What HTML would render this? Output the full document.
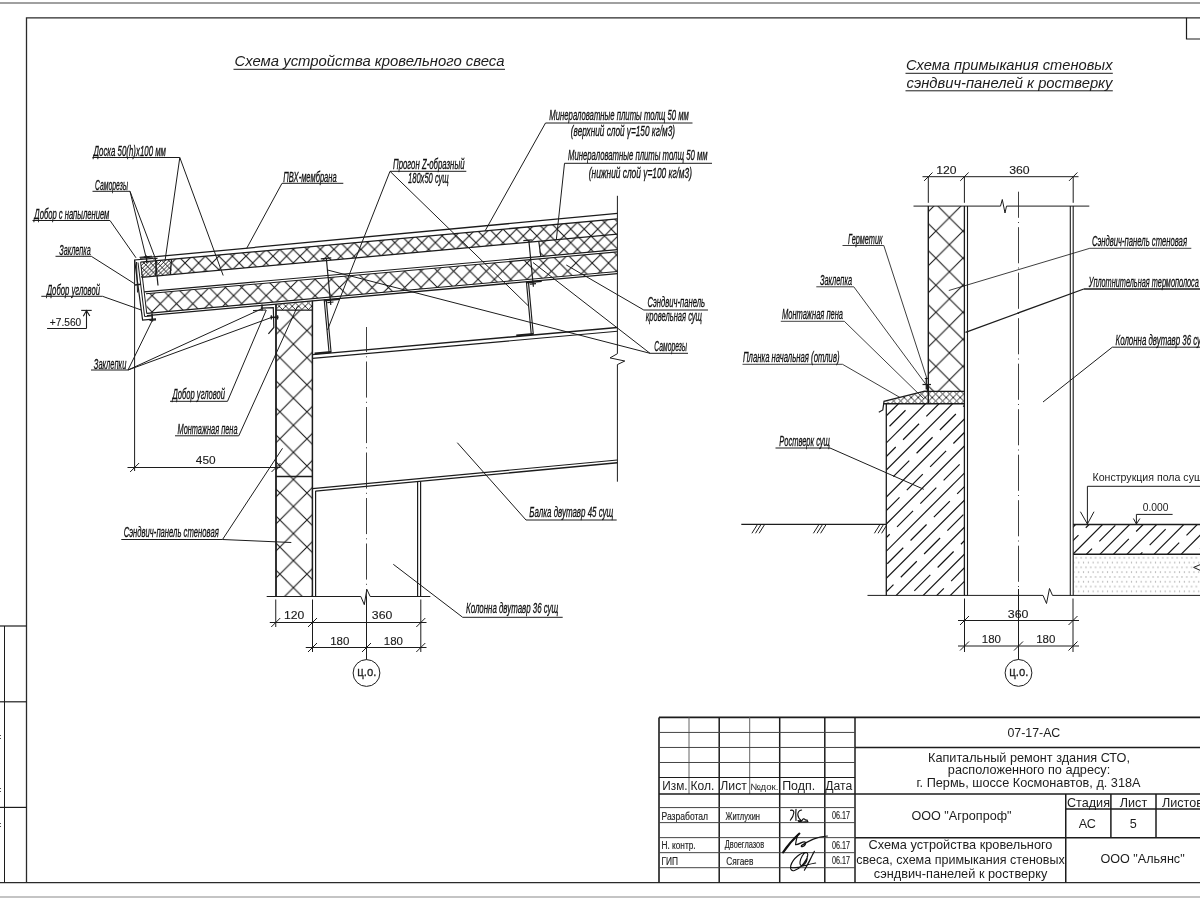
<!DOCTYPE html>
<html lang="ru"><head><meta charset="utf-8"><title>07-17-АС Лист 5</title>
<style>
html,body{margin:0;padding:0;background:#fff;}
body{width:1200px;height:900px;overflow:hidden;}
svg{display:block;will-change:transform;}
text{font-family:"Liberation Sans",sans-serif;fill:#1c1c1c;}
.g{font-style:italic;fill:#101010;stroke:#101010;stroke-width:0.3px;}
.a{font-style:normal;}
.t{font-style:italic;}
.n{font-style:normal;}
.d{font-style:normal;fill:#1a1a1a;stroke:#1a1a1a;stroke-width:0.12px;}
</style></head><body>
<svg width="1200" height="900" viewBox="0 0 1200 900">
<defs>
<pattern id="hWool" patternUnits="userSpaceOnUse" width="13.53" height="13.53" patternTransform="translate(185.06,262.94)">
<path d="M0,0 L13.53,13.53 M0,13.53 L13.53,0" stroke="#151515" stroke-width="1.05" fill="none"/></pattern>
<pattern id="hRoof" patternUnits="userSpaceOnUse" width="16.3" height="16.3" patternTransform="translate(201,295.6)">
<path d="M0,0 L16.3,16.3 M0,16.3 L16.3,0" stroke="#151515" stroke-width="1.05" fill="none"/></pattern>
<pattern id="hWall" patternUnits="userSpaceOnUse" width="27.06" height="27.06" patternTransform="translate(293.4,425.3)">
<path d="M0,0 L27.06,27.06 M0,27.06 L27.06,0" stroke="#151515" stroke-width="1.05" fill="none"/></pattern>
<pattern id="hWallR" patternUnits="userSpaceOnUse" width="27.06" height="27.06" patternTransform="translate(949.4,217.6)">
<path d="M0,0 L27.06,27.06 M0,27.06 L27.06,0" stroke="#151515" stroke-width="1.05" fill="none"/></pattern>
<pattern id="hFoam" patternUnits="userSpaceOnUse" width="6.5" height="6.5" patternTransform="translate(279.2,306.25)">
<path d="M0,0 L6.5,6.5 M0,6.5 L6.5,0" stroke="#151515" stroke-width="0.85" fill="none"/></pattern>
<pattern id="hBoard" patternUnits="userSpaceOnUse" width="3.8" height="3.8" patternTransform="translate(141,262)">
<path d="M-0.5,4.3 L4.3,-0.5" stroke="#151515" stroke-width="0.9" fill="none"/></pattern>
<pattern id="hBoard2" patternUnits="userSpaceOnUse" width="6.8" height="6.8" patternTransform="translate(143,262)">
<path d="M-0.5,-0.5 L7.3,7.3" stroke="#151515" stroke-width="0.9" fill="none"/></pattern>
<pattern id="hFoamR" patternUnits="userSpaceOnUse" width="7" height="7" patternTransform="translate(939.2,397.5)">
<path d="M0,0 L7,7 M0,7 L7,0" stroke="#151515" stroke-width="0.9" fill="none"/></pattern>
<pattern id="hSand" patternUnits="userSpaceOnUse" width="4.8" height="9.6" patternTransform="translate(1075.4,556.8)">
<rect x="0.4" y="0.4" width="1.1" height="1.1" fill="#8a8a8a"/><rect x="2.8" y="5.2" width="1.1" height="1.1" fill="#8a8a8a"/></pattern>
</defs>

<line x1="0" y1="3" x2="1200" y2="3" stroke="#a0a0a0" stroke-width="2" />
<line x1="0" y1="897" x2="1200" y2="897" stroke="#8a8a8a" stroke-width="1.2" />
<path d="M26.5,882.6 L26.5,17.8 L1200,17.8" fill="none" stroke="#2a2a2a" stroke-width="1.3" />
<line x1="0" y1="882.6" x2="1200" y2="882.6" stroke="#2a2a2a" stroke-width="1.3" />
<path d="M1186.5,17.8 L1186.5,39 L1200,39" fill="none" stroke="#1c1c1c" stroke-width="1.2" />
<line x1="4.5" y1="626" x2="4.5" y2="882.6" stroke="#1c1c1c" stroke-width="1" />
<line x1="0" y1="626" x2="26.5" y2="626" stroke="#1c1c1c" stroke-width="1.2" />
<line x1="0" y1="701.8" x2="26.5" y2="701.8" stroke="#1c1c1c" stroke-width="1.2" />
<line x1="0" y1="807.4" x2="26.5" y2="807.4" stroke="#1c1c1c" stroke-width="1.2" />
<rect x="0" y="735" width="1" height="1" fill="#555"/><rect x="0" y="738" width="1" height="1" fill="#555"/>
<rect x="0" y="788" width="1" height="1" fill="#555"/><rect x="0" y="791" width="1" height="1" fill="#555"/>
<rect x="0" y="823" width="1" height="1" fill="#555"/><rect x="0" y="826" width="1" height="1" fill="#555"/>
<text x="234.5" y="65.7" font-size="14.8" class="t" textLength="270" lengthAdjust="spacingAndGlyphs">Схема устройства кровельного свеса</text>
<line x1="233.5" y1="69.3" x2="505" y2="69.3" stroke="#1c1c1c" stroke-width="1" />
<path d="M171.5,259.27 L617.4,218.83 L617.4,234.22 L171.5,274.57 Z" fill="url(#hWool)" stroke="none" stroke-width="0" />
<path d="M539.5,241.27 L617.4,234.22 L617.4,249.72 L539.5,256.64 Z" fill="url(#hWool)" stroke="none" stroke-width="0" />
<path d="M146.5,293.78 L617.4,251.92 L617.4,271.5 L146.5,313.41 Z" fill="url(#hRoof)" stroke="none" stroke-width="0" />
<path d="M141,262.34 L171.5,259.57 L171.5,274.57 L141,277.33 Z" fill="url(#hBoard)" stroke="none" stroke-width="0" />
<path d="M141,262.34 L171.5,259.57 L171.5,274.57 L141,277.33 Z" fill="url(#hBoard2)" stroke="none" stroke-width="0" />
<line x1="140" y1="258.15" x2="617.4" y2="213.42" stroke="#1c1c1c" stroke-width="1.3" />
<line x1="140.5" y1="262.08" x2="617.4" y2="218.83" stroke="#1c1c1c" stroke-width="1.3" />
<line x1="141.5" y1="277.28" x2="617.4" y2="234.22" stroke="#1c1c1c" stroke-width="1.3" />
<line x1="144" y1="291.8" x2="617.4" y2="249.72" stroke="#1c1c1c" stroke-width="1.2" />
<line x1="146" y1="293.82" x2="617.4" y2="251.92" stroke="#1c1c1c" stroke-width="1.1" />
<line x1="147" y1="313.37" x2="617.4" y2="271.5" stroke="#1c1c1c" stroke-width="1.1" />
<line x1="147" y1="315.57" x2="617.4" y2="273.7" stroke="#1c1c1c" stroke-width="1.3" />
<line x1="171.5" y1="259.27" x2="170.2" y2="274.69" stroke="#1c1c1c" stroke-width="1.3" />
<line x1="156.5" y1="260.63" x2="155.4" y2="276.03" stroke="#1c1c1c" stroke-width="1" />
<line x1="538.8" y1="241.33" x2="540.8" y2="256.52" stroke="#1c1c1c" stroke-width="1.2" />
<path d="M153,258.3 L134.6,260 L142.6,320 L156,318.8" fill="none" stroke="#1c1c1c" stroke-width="1.2" />
<path d="M138,262.5 L144.6,316.5 L152,315.9" fill="none" stroke="#1c1c1c" stroke-width="1.0" />
<path d="M140.6,262.2 L146.8,313.8" fill="none" stroke="#1c1c1c" stroke-width="1.0" />
<path d="M136.5,262 L137.5,292.5" fill="none" stroke="#1c1c1c" stroke-width="1.0" />
<line x1="139.5" y1="257.3" x2="152" y2="256.2" stroke="#1c1c1c" stroke-width="1" />
<line x1="146.3" y1="255.5" x2="146.8" y2="263" stroke="#1c1c1c" stroke-width="1.4" />
<line x1="144" y1="257.2" x2="149.5" y2="256.7" stroke="#1c1c1c" stroke-width="1.2" />
<line x1="155.2" y1="258" x2="158" y2="285.5" stroke="#1c1c1c" stroke-width="1.2" />
<line x1="153" y1="258.8" x2="157.5" y2="258.4" stroke="#1c1c1c" stroke-width="1.2" />
<line x1="134.8" y1="285" x2="141" y2="284.3" stroke="#1c1c1c" stroke-width="1.6" />
<line x1="152" y1="313.5" x2="152.4" y2="321.5" stroke="#1c1c1c" stroke-width="1.6" />
<line x1="149.5" y1="320.4" x2="156" y2="319.8" stroke="#1c1c1c" stroke-width="1.4" />
<line x1="134.6" y1="260" x2="134.6" y2="471" stroke="#1c1c1c" stroke-width="1" />
<path d="M276,310.2 L312.4,310.2 L312.4,596.7 L276,596.7 Z" fill="url(#hWall)" stroke="none"/>
<path d="M277,304.59 L312.4,301.35 L312.4,310.2 L277,310.2 Z" fill="url(#hFoam)" stroke="none"/>
<line x1="276" y1="304.09" x2="276" y2="596.7" stroke="#1c1c1c" stroke-width="1.8" />
<line x1="312.4" y1="300.85" x2="312.4" y2="596.7" stroke="#1c1c1c" stroke-width="1.5" />
<line x1="276" y1="310.2" x2="312.4" y2="310.2" stroke="#1c1c1c" stroke-width="1.3" />
<line x1="276" y1="476.6" x2="312.4" y2="476.6" stroke="#1c1c1c" stroke-width="1.5" />
<path d="M260.8,308.2 L273.3,307.6 L273.8,327.5 L268.4,333.8" fill="none" stroke="#1c1c1c" stroke-width="1.2" />
<line x1="262" y1="304.5" x2="262" y2="310.5" stroke="#1c1c1c" stroke-width="1.5" />
<line x1="253" y1="310.6" x2="266" y2="310" stroke="#1c1c1c" stroke-width="1.1" />
<line x1="270.5" y1="317.3" x2="278.5" y2="317.3" stroke="#1c1c1c" stroke-width="1.6" />
<line x1="271.3" y1="315.2" x2="271.3" y2="319.5" stroke="#1c1c1c" stroke-width="1.2" />
<line x1="277.6" y1="315.2" x2="277.6" y2="319.5" stroke="#1c1c1c" stroke-width="1.2" />
<line x1="312.4" y1="354.61" x2="617.4" y2="327.46" stroke="#1c1c1c" stroke-width="1.4" />
<line x1="312.4" y1="358.41" x2="617.4" y2="331.26" stroke="#1c1c1c" stroke-width="1.2" />
<line x1="312.4" y1="488.6" x2="617.4" y2="459.99" stroke="#1c1c1c" stroke-width="1.2" />
<line x1="315.4" y1="491.12" x2="617.4" y2="462.79" stroke="#1c1c1c" stroke-width="1.4" />
<line x1="315.6" y1="491.12" x2="315.6" y2="596.7" stroke="#1c1c1c" stroke-width="1.2" />
<line x1="417.6" y1="481.25" x2="417.6" y2="596.7" stroke="#1c1c1c" stroke-width="1.2" />
<line x1="420.6" y1="481.25" x2="420.6" y2="596.7" stroke="#1c1c1c" stroke-width="1.2" />
<path d="M266.7,596.5 L360.8,596.5 L364.3,604.7 L366.8,589.3 L370.2,596.5 L430.3,596.5" fill="none" stroke="#1c1c1c" stroke-width="1" />
<path d="M617.4,195.8 L617.4,353.7 L610,357.9 L624.8,361 L617.4,364.6 L617.4,481.7" fill="none" stroke="#1c1c1c" stroke-width="1" />
<path d="M324.2,299.8 L329.09,352.72" fill="none" stroke="#1c1c1c" stroke-width="1.15" />
<path d="M326.2,299.6 L331.09,352.52" fill="none" stroke="#1c1c1c" stroke-width="1.15" />
<line x1="331.09" y1="352.12" x2="314.59" y2="353.41" stroke="#1c1c1c" stroke-width="2" />
<line x1="324.2" y1="300.5" x2="339.2" y2="299.16" stroke="#1c1c1c" stroke-width="1.8" />
<path d="M526.4,281.8 L531.29,334.72" fill="none" stroke="#1c1c1c" stroke-width="1.15" />
<path d="M528.4,281.6 L533.29,334.52" fill="none" stroke="#1c1c1c" stroke-width="1.15" />
<line x1="533.29" y1="334.12" x2="516.29" y2="335.46" stroke="#1c1c1c" stroke-width="2" />
<line x1="526.4" y1="282.5" x2="541.7" y2="281.14" stroke="#1c1c1c" stroke-width="1.8" />
<line x1="326.3" y1="258.3" x2="330.8" y2="305" stroke="#1c1c1c" stroke-width="1.2" />
<line x1="320.8" y1="258.8" x2="331.3" y2="257.9" stroke="#1c1c1c" stroke-width="1.2" />
<line x1="327.3" y1="302.6" x2="333.5" y2="302" stroke="#1c1c1c" stroke-width="1.2" />
<line x1="528.8" y1="240" x2="533.4" y2="286.8" stroke="#1c1c1c" stroke-width="1.2" />
<line x1="523.3" y1="240.6" x2="531.8" y2="239.8" stroke="#1c1c1c" stroke-width="1.2" />
<line x1="529.8" y1="284.2" x2="536" y2="283.6" stroke="#1c1c1c" stroke-width="1.2" />
<line x1="366.5" y1="327" x2="366.5" y2="597" stroke="#2a2a2a" stroke-width="0.9" stroke-dasharray="36.1,4.2,1,4.2" stroke-dashoffset="11"/>
<circle cx="366.5" cy="673" r="13.4" fill="none" stroke="#1c1c1c" stroke-width="1"/>
<text x="357.3" y="676.2" font-size="13" textLength="19" lengthAdjust="spacingAndGlyphs" class="n" stroke="#1c1c1c" stroke-width="0.3">ц.о.</text>
<line x1="127.5" y1="467.5" x2="280.5" y2="467.5" stroke="#1c1c1c" stroke-width="1" />
<line x1="130.1" y1="472" x2="139.1" y2="463" stroke="#1c1c1c" stroke-width="1" />
<line x1="271.5" y1="472" x2="280.5" y2="463" stroke="#1c1c1c" stroke-width="1" />
<text x="195.8" y="464.2" font-size="11.4" textLength="19.8" lengthAdjust="spacingAndGlyphs" class="d">450</text>
<line x1="275.75" y1="599.5" x2="275.75" y2="627" stroke="#1c1c1c" stroke-width="1" />
<line x1="312.5" y1="599.5" x2="312.5" y2="652" stroke="#1c1c1c" stroke-width="1" />
<line x1="420.8" y1="599.5" x2="420.8" y2="652" stroke="#1c1c1c" stroke-width="1" />
<line x1="366.5" y1="596.5" x2="366.5" y2="659.6" stroke="#1c1c1c" stroke-width="1" />
<line x1="269.75" y1="622.5" x2="426.5" y2="622.5" stroke="#1c1c1c" stroke-width="1" />
<line x1="271.25" y1="627" x2="280.25" y2="618" stroke="#1c1c1c" stroke-width="1" />
<line x1="308" y1="627" x2="317" y2="618" stroke="#1c1c1c" stroke-width="1" />
<line x1="416.3" y1="627" x2="425.3" y2="618" stroke="#1c1c1c" stroke-width="1" />
<text x="284" y="619.3" font-size="11.4" textLength="20.3" lengthAdjust="spacingAndGlyphs" class="d">120</text>
<text x="371.8" y="619.3" font-size="11.4" textLength="20.5" lengthAdjust="spacingAndGlyphs" class="d">360</text>
<line x1="305.75" y1="647.5" x2="426.5" y2="647.5" stroke="#1c1c1c" stroke-width="1" />
<line x1="308" y1="652" x2="317" y2="643" stroke="#1c1c1c" stroke-width="1" />
<line x1="362" y1="652" x2="371" y2="643" stroke="#1c1c1c" stroke-width="1" />
<line x1="416.3" y1="652" x2="425.3" y2="643" stroke="#1c1c1c" stroke-width="1" />
<text x="330.2" y="644.5" font-size="11.4" textLength="19.2" lengthAdjust="spacingAndGlyphs" class="d">180</text>
<text x="383.8" y="644.5" font-size="11.4" textLength="19.2" lengthAdjust="spacingAndGlyphs" class="d">180</text>
<text x="49.8" y="326" font-size="10.4" textLength="31.4" lengthAdjust="spacingAndGlyphs" class="d">+7.560</text>
<line x1="47.1" y1="328.5" x2="86.5" y2="328.5" stroke="#1c1c1c" stroke-width="1.1" />
<line x1="86.5" y1="328.5" x2="86.5" y2="310.4" stroke="#1c1c1c" stroke-width="1.1" />
<path d="M83.3,316.2 L86.5,310.6 L89.8,316" fill="none" stroke="#1c1c1c" stroke-width="1.1" />
<line x1="81.2" y1="310.4" x2="91.7" y2="310.4" stroke="#1c1c1c" stroke-width="1.1" />
<text x="93.5" y="156" font-size="14.2" textLength="72.5" lengthAdjust="spacingAndGlyphs" class="g">Доска 50(h)х100 мм</text>
<line x1="92.5" y1="157.5" x2="179.8" y2="157.5" stroke="#1c1c1c" stroke-width="1" />
<line x1="179.8" y1="157.5" x2="165" y2="261" stroke="#1c1c1c" stroke-width="1" />
<line x1="179.8" y1="157.5" x2="223.2" y2="275.5" stroke="#1c1c1c" stroke-width="1" />
<text x="95" y="190" font-size="14.2" textLength="33" lengthAdjust="spacingAndGlyphs" class="g">Саморезы</text>
<line x1="92.5" y1="191.3" x2="130" y2="191.3" stroke="#1c1c1c" stroke-width="1" />
<line x1="130" y1="191.3" x2="145.8" y2="256.3" stroke="#1c1c1c" stroke-width="1" />
<line x1="130" y1="191.3" x2="155.2" y2="258" stroke="#1c1c1c" stroke-width="1" />
<text x="34.3" y="219" font-size="14.2" textLength="75" lengthAdjust="spacingAndGlyphs" class="g">Добор с напылением</text>
<line x1="32.5" y1="220.5" x2="110" y2="220.5" stroke="#1c1c1c" stroke-width="1" />
<line x1="110" y1="220.5" x2="136" y2="257.8" stroke="#1c1c1c" stroke-width="1" />
<text x="59.3" y="255" font-size="14.2" textLength="31.4" lengthAdjust="spacingAndGlyphs" class="g">Заклепка</text>
<line x1="55.5" y1="256.3" x2="91.3" y2="256.3" stroke="#1c1c1c" stroke-width="1" />
<line x1="91.3" y1="256.3" x2="135" y2="284" stroke="#1c1c1c" stroke-width="1" />
<text x="46.7" y="295" font-size="14.2" textLength="53.3" lengthAdjust="spacingAndGlyphs" class="g">Добор угловой</text>
<line x1="41.3" y1="296.3" x2="102.5" y2="296.3" stroke="#1c1c1c" stroke-width="1" />
<line x1="102.5" y1="296.3" x2="141.3" y2="310" stroke="#1c1c1c" stroke-width="1" />
<text x="93.8" y="369" font-size="14.2" textLength="32.5" lengthAdjust="spacingAndGlyphs" class="g">Заклепки</text>
<line x1="91" y1="370" x2="128" y2="370" stroke="#1c1c1c" stroke-width="1" />
<line x1="128" y1="370" x2="152.5" y2="320" stroke="#1c1c1c" stroke-width="1" />
<line x1="128" y1="370" x2="261.3" y2="309" stroke="#1c1c1c" stroke-width="1" />
<line x1="128" y1="370" x2="271.3" y2="317.5" stroke="#1c1c1c" stroke-width="1" />
<text x="283.3" y="181.7" font-size="14.2" textLength="53.4" lengthAdjust="spacingAndGlyphs" class="g">ПВХ-мембрана</text>
<line x1="282" y1="183.3" x2="343.3" y2="183.3" stroke="#1c1c1c" stroke-width="1" />
<line x1="282" y1="183.3" x2="246.7" y2="248.3" stroke="#1c1c1c" stroke-width="1" />
<text x="393" y="168.8" font-size="14.2" textLength="71.5" lengthAdjust="spacingAndGlyphs" class="g">Прогон Z-образный</text>
<line x1="390" y1="171.3" x2="466.3" y2="171.3" stroke="#1c1c1c" stroke-width="1" />
<line x1="390" y1="171.3" x2="327.5" y2="330" stroke="#1c1c1c" stroke-width="1" />
<line x1="390" y1="171.3" x2="528.8" y2="306.3" stroke="#1c1c1c" stroke-width="1" />
<text x="408" y="183.3" font-size="14.2" textLength="40.8" lengthAdjust="spacingAndGlyphs" class="g">180х50 сущ</text>
<text x="549.3" y="120" font-size="14.2" textLength="139.5" lengthAdjust="spacingAndGlyphs" class="g">Минераловатные плиты толщ 50 мм</text>
<line x1="545.5" y1="123" x2="692.5" y2="123" stroke="#1c1c1c" stroke-width="1" />
<line x1="545.5" y1="123" x2="485" y2="231" stroke="#1c1c1c" stroke-width="1" />
<text x="570.8" y="136.3" font-size="14.2" textLength="104.2" lengthAdjust="spacingAndGlyphs" class="g">(верхний слой γ=150 кг/м3)</text>
<text x="568" y="160" font-size="14.2" textLength="139.5" lengthAdjust="spacingAndGlyphs" class="g">Минераловатные плиты толщ 50 мм</text>
<line x1="564.5" y1="163.3" x2="712" y2="163.3" stroke="#1c1c1c" stroke-width="1" />
<line x1="564.5" y1="163.3" x2="556.3" y2="240" stroke="#1c1c1c" stroke-width="1" />
<text x="588.8" y="177.5" font-size="14.2" textLength="103.2" lengthAdjust="spacingAndGlyphs" class="g">(нижний слой γ=100 кг/м3)</text>
<text x="647.5" y="307" font-size="14.2" textLength="57.5" lengthAdjust="spacingAndGlyphs" class="g">Сэндвич-панель</text>
<line x1="643.8" y1="310" x2="708" y2="310" stroke="#1c1c1c" stroke-width="1" />
<line x1="643.8" y1="310" x2="566.3" y2="265" stroke="#1c1c1c" stroke-width="1" />
<text x="645.8" y="321.3" font-size="14.2" textLength="56.2" lengthAdjust="spacingAndGlyphs" class="g">кровельная сущ</text>
<text x="654.3" y="351.3" font-size="14.2" textLength="32.7" lengthAdjust="spacingAndGlyphs" class="g">Саморезы</text>
<line x1="650" y1="353.3" x2="688" y2="353.3" stroke="#1c1c1c" stroke-width="1" />
<line x1="650" y1="353.3" x2="533" y2="262.5" stroke="#1c1c1c" stroke-width="1" />
<line x1="650" y1="353.3" x2="327.5" y2="270" stroke="#1c1c1c" stroke-width="1" />
<text x="529.3" y="516.7" font-size="14.2" textLength="84" lengthAdjust="spacingAndGlyphs" class="g">Балка двутавр 45 сущ</text>
<line x1="526" y1="520" x2="616.7" y2="520" stroke="#1c1c1c" stroke-width="1" />
<line x1="526" y1="520" x2="457.3" y2="442.7" stroke="#1c1c1c" stroke-width="1" />
<text x="466" y="613.3" font-size="14.2" textLength="92.3" lengthAdjust="spacingAndGlyphs" class="g">Колонна двутавр 36 сущ</text>
<line x1="462.7" y1="617.3" x2="562.7" y2="617.3" stroke="#1c1c1c" stroke-width="1" />
<line x1="462.7" y1="617.3" x2="393.3" y2="564.3" stroke="#1c1c1c" stroke-width="1" />
<text x="123.8" y="537" font-size="14.2" textLength="95" lengthAdjust="spacingAndGlyphs" class="g">Сэндвич-панель стеновая</text>
<line x1="121.3" y1="539.5" x2="222.5" y2="539.5" stroke="#1c1c1c" stroke-width="1" />
<line x1="222.5" y1="539.5" x2="291.3" y2="542.5" stroke="#1c1c1c" stroke-width="1" />
<line x1="222.5" y1="539.5" x2="282.5" y2="448.3" stroke="#1c1c1c" stroke-width="1" />
<text x="177.5" y="434.2" font-size="14.2" textLength="60" lengthAdjust="spacingAndGlyphs" class="g">Монтажная пена</text>
<line x1="175" y1="435.8" x2="238.8" y2="435.8" stroke="#1c1c1c" stroke-width="1" />
<line x1="238.8" y1="435.8" x2="297.5" y2="306.3" stroke="#1c1c1c" stroke-width="1" />
<text x="172.5" y="399.3" font-size="14.2" textLength="52.5" lengthAdjust="spacingAndGlyphs" class="g">Добор угловой</text>
<line x1="170" y1="401.3" x2="227.5" y2="401.3" stroke="#1c1c1c" stroke-width="1" />
<line x1="227.5" y1="401.3" x2="266.3" y2="310" stroke="#1c1c1c" stroke-width="1" />
<text x="906" y="69.7" font-size="14.8" class="t" textLength="206.5" lengthAdjust="spacingAndGlyphs">Схема примыкания стеновых</text>
<line x1="905.5" y1="73.3" x2="1112.8" y2="73.3" stroke="#1c1c1c" stroke-width="1" />
<text x="906.5" y="87.5" font-size="14.8" class="t" textLength="206" lengthAdjust="spacingAndGlyphs">сэндвич-панелей к ростверку</text>
<line x1="905.5" y1="90.8" x2="1112.8" y2="90.8" stroke="#1c1c1c" stroke-width="1" />
<rect x="928.3" y="206.1" width="36.1" height="185.2" fill="url(#hWallR)"/>
<line x1="928.3" y1="206.1" x2="928.3" y2="403.8" stroke="#1c1c1c" stroke-width="1.4" />
<line x1="964.4" y1="206.1" x2="964.4" y2="595.4" stroke="#1c1c1c" stroke-width="1.3" />
<line x1="967.5" y1="206.1" x2="967.5" y2="595.4" stroke="#1c1c1c" stroke-width="1.1" />
<line x1="1070.3" y1="206.1" x2="1070.3" y2="595.4" stroke="#1c1c1c" stroke-width="1.1" />
<line x1="1073.2" y1="206.1" x2="1073.2" y2="595.4" stroke="#1c1c1c" stroke-width="1.1" />
<path d="M913.5,206.1 L1000.5,206.1 L1002.3,199.5 L1005,213 L1006.5,206.1 L1089.3,206.1" fill="none" stroke="#1c1c1c" stroke-width="1" />
<line x1="1018.5" y1="191.7" x2="1018.5" y2="589" stroke="#2a2a2a" stroke-width="0.9" stroke-dasharray="36.1,4.2,1,4.2" stroke-dashoffset="10"/>
<line x1="928.3" y1="176.2" x2="928.3" y2="202.8" stroke="#1c1c1c" stroke-width="1" />
<line x1="964.4" y1="176.2" x2="964.4" y2="202.8" stroke="#1c1c1c" stroke-width="1" />
<line x1="1073.2" y1="176.2" x2="1073.2" y2="202.8" stroke="#1c1c1c" stroke-width="1" />
<line x1="922.5" y1="176.7" x2="1078.5" y2="176.7" stroke="#1c1c1c" stroke-width="1" />
<line x1="924.1" y1="180.9" x2="932.5" y2="172.5" stroke="#1c1c1c" stroke-width="1" />
<line x1="960.2" y1="180.9" x2="968.6" y2="172.5" stroke="#1c1c1c" stroke-width="1" />
<line x1="1069" y1="180.9" x2="1077.4" y2="172.5" stroke="#1c1c1c" stroke-width="1" />
<text x="936.3" y="174.4" font-size="11.4" textLength="20.3" lengthAdjust="spacingAndGlyphs" class="d">120</text>
<text x="1009.2" y="174.4" font-size="11.4" textLength="20.5" lengthAdjust="spacingAndGlyphs" class="d">360</text>
<path d="M886.3,402 L923.8,391.3 L964.4,391.3 L964.4,403.8 L886.3,403.8 Z" fill="url(#hFoamR)" stroke="none" stroke-width="0" />
<path d="M927.5,385 L927.5,391.3 L923.8,391.3 L884,401.3 L882.8,410 L878.8,412.3" fill="none" stroke="#1c1c1c" stroke-width="1.2" />
<line x1="923.8" y1="391.3" x2="964.4" y2="391.3" stroke="#1c1c1c" stroke-width="1.3" />
<line x1="883.3" y1="403.8" x2="964.4" y2="403.8" stroke="#1c1c1c" stroke-width="1.4" />
<line x1="926.3" y1="378.5" x2="926.3" y2="389.5" stroke="#1c1c1c" stroke-width="1.3" />
<line x1="922.5" y1="384.5" x2="931" y2="384.5" stroke="#1c1c1c" stroke-width="1.2" />
<line x1="924.8" y1="378.5" x2="927.8" y2="378.5" stroke="#1c1c1c" stroke-width="1.2" />
<clipPath id="cc1"><rect x="886.3" y="403.8" width="78.1" height="191.6"/></clipPath>
<g clip-path="url(#cc1)" stroke="#151515" stroke-width="1.2" fill="none">
<path d="M652.76,608.86 L668.76,592.86 M676.06,585.56 L692.06,569.56 M699.36,562.26 L715.36,546.26 M722.66,538.96 L738.66,522.96 M745.96,515.66 L761.96,499.66 M769.26,492.36 L785.26,476.36 M792.56,469.06 L808.56,453.06 M815.86,445.75 L831.86,429.75 M839.16,422.46 L855.16,406.46"/>
<path d="M689.59,599.09 L705.59,583.09 M712.88,575.79 L728.88,559.79 M736.19,552.49 L752.19,536.49 M759.49,529.19 L775.49,513.19 M782.79,505.88 L798.79,489.88 M806.09,482.59 L822.09,466.59 M829.39,459.28 L845.39,443.28 M852.69,435.99 L868.69,419.99 M875.99,412.68 L891.99,396.68"/>
<path d="M705.8,596.4 L899.4,402.8"/>
<path d="M726.41,589.32 L742.41,573.32 M749.72,566.01 L765.72,550.01 M773.01,542.72 L789.01,526.72 M796.32,519.41 L812.32,503.42 M819.62,496.12 L835.62,480.12 M842.91,472.81 L858.91,456.81 M866.22,449.51 L882.22,433.51 M889.52,426.21 L905.52,410.21 M912.82,402.91 L928.82,386.91"/>
<path d="M732.86,596.4 L926.46,402.8"/>
<path d="M739.94,602.85 L755.94,586.85 M763.25,579.54 L779.25,563.54 M786.54,556.25 L802.54,540.25 M809.85,532.94 L825.85,516.94 M833.14,509.64 L849.14,493.64 M856.44,486.34 L872.44,470.34 M879.75,463.04 L895.75,447.04 M903.05,439.74 L919.05,423.74 M926.35,416.44 L942.35,400.44"/>
<path d="M759.92,596.4 L953.52,402.8"/>
<path d="M776.77,593.07 L792.77,577.07 M800.07,569.77 L816.07,553.77 M823.38,546.47 L839.38,530.47 M846.67,523.17 L862.67,507.17 M869.98,499.87 L885.98,483.87 M893.27,476.57 L909.27,460.57 M916.58,453.27 L932.58,437.27 M939.88,429.97 L955.88,413.97 M963.17,406.67 L979.17,390.67"/>
<path d="M786.98,596.4 L980.58,402.8"/>
<path d="M790.3,606.6 L806.3,590.6 M813.6,583.3 L829.6,567.3 M836.9,560 L852.9,544 M860.2,536.7 L876.2,520.7 M883.5,513.4 L899.5,497.4 M906.8,490.1 L922.8,474.1 M930.11,466.8 L946.11,450.8 M953.4,443.5 L969.4,427.5 M976.7,420.2 L992.7,404.2"/>
<path d="M814.04,596.4 L1007.64,402.8"/>
<path d="M827.13,596.83 L843.13,580.83 M850.43,573.53 L866.43,557.53 M873.73,550.23 L889.73,534.23 M897.03,526.93 L913.03,510.93 M920.33,503.63 L936.33,487.63 M943.63,480.33 L959.63,464.33 M966.93,457.03 L982.93,441.03 M990.23,433.73 L1006.23,417.73 M1013.53,410.43 L1029.53,394.43"/>
<path d="M841.1,596.4 L1034.7,402.8"/>
<path d="M840.66,610.36 L856.66,594.36 M863.96,587.06 L879.96,571.06 M887.26,563.76 L903.26,547.76 M910.56,540.46 L926.56,524.46 M933.86,517.16 L949.86,501.16 M957.16,493.86 L973.16,477.86 M980.46,470.56 L996.46,454.56 M1003.76,447.26 L1019.76,431.26 M1027.07,423.96 L1043.07,407.96"/>
<path d="M868.16,596.4 L1061.76,402.8"/>
<path d="M877.49,600.59 L893.49,584.59 M900.79,577.29 L916.79,561.29 M924.09,553.99 L940.09,537.99 M947.39,530.69 L963.39,514.69 M970.69,507.39 L986.69,491.39 M993.99,484.09 L1009.99,468.09 M1017.29,460.79 L1033.29,444.79 M1040.59,437.49 L1056.59,421.49 M1063.89,414.19 L1079.89,398.19"/>
<path d="M895.22,596.4 L1088.82,402.8"/>
<path d="M914.32,590.82 L930.32,574.82 M937.62,567.52 L953.62,551.52 M960.92,544.22 L976.92,528.22 M984.22,520.92 L1000.22,504.92 M1007.52,497.62 L1023.52,481.62 M1030.82,474.32 L1046.82,458.32 M1054.12,451.02 L1070.12,435.02 M1077.42,427.72 L1093.42,411.72 M1100.72,404.42 L1116.72,388.42"/>
<path d="M922.28,596.4 L1115.88,402.8"/>
<path d="M927.85,604.35 L943.85,588.35 M951.15,581.05 L967.15,565.05 M974.45,557.75 L990.45,541.75 M997.75,534.45 L1013.75,518.45 M1021.05,511.15 L1037.05,495.15 M1044.35,487.85 L1060.35,471.85 M1067.65,464.55 L1083.65,448.55 M1090.95,441.25 L1106.95,425.25 M1114.25,417.95 L1130.25,401.95"/>
<path d="M949.34,596.4 L1142.94,402.8"/>
<path d="M964.68,594.58 L980.68,578.58 M987.98,571.28 L1003.98,555.28 M1011.28,547.98 L1027.28,531.98 M1034.58,524.68 L1050.58,508.68 M1057.88,501.38 L1073.88,485.38 M1081.18,478.08 L1097.18,462.08 M1104.48,454.78 L1120.48,438.78 M1127.78,431.48 L1143.78,415.48 M1151.08,408.18 L1167.08,392.18"/>
<path d="M976.4,596.4 L1170,402.8"/>
<path d="M978.21,608.11 L994.21,592.11 M1001.51,584.81 L1017.51,568.81 M1024.81,561.51 L1040.81,545.51 M1048.11,538.21 L1064.11,522.21 M1071.41,514.91 L1087.41,498.91 M1094.71,491.61 L1110.71,475.61 M1118.01,468.31 L1134.01,452.31 M1141.31,445.01 L1157.31,429.01 M1164.61,421.71 L1180.61,405.71"/>
</g>
<line x1="886.3" y1="403.8" x2="886.3" y2="595.4" stroke="#1c1c1c" stroke-width="1.3" />
<line x1="741.3" y1="524.3" x2="886.3" y2="524.3" stroke="#1c1c1c" stroke-width="1.3" />
<line x1="757.1" y1="525" x2="751.9" y2="533.3" stroke="#1c1c1c" stroke-width="1" />
<line x1="760.7" y1="525" x2="755.5" y2="533.3" stroke="#1c1c1c" stroke-width="1" />
<line x1="764.3" y1="525" x2="759.1" y2="533.3" stroke="#1c1c1c" stroke-width="1" />
<line x1="818.6" y1="525" x2="813.4" y2="533.3" stroke="#1c1c1c" stroke-width="1" />
<line x1="822.2" y1="525" x2="817" y2="533.3" stroke="#1c1c1c" stroke-width="1" />
<line x1="825.8" y1="525" x2="820.6" y2="533.3" stroke="#1c1c1c" stroke-width="1" />
<line x1="879.6" y1="525" x2="874.4" y2="533.3" stroke="#1c1c1c" stroke-width="1" />
<line x1="883.2" y1="525" x2="878" y2="533.3" stroke="#1c1c1c" stroke-width="1" />
<line x1="886.8" y1="525" x2="881.6" y2="533.3" stroke="#1c1c1c" stroke-width="1" />
<path d="M867.5,595.4 L1043,595.4 L1046.5,603.5 L1049.5,588.5 L1052.5,595.4 L1200,595.4" fill="none" stroke="#1c1c1c" stroke-width="1" />
<clipPath id="cc2"><rect x="1073.2" y="524.5" width="126.8" height="29.8"/></clipPath>
<g clip-path="url(#cc2)" stroke="#151515" stroke-width="1.2" fill="none">
<path d="M988.82,570.62 L1004.82,554.62 M1012.12,547.32 L1028.12,531.32 M1035.42,524.02 L1051.42,508.02"/>
<path d="M1025.65,560.85 L1041.65,544.85 M1048.95,537.55 L1064.95,521.55"/>
<path d="M1044.74,555.3 L1076.54,523.5"/>
<path d="M1062.48,551.08 L1078.48,535.08 M1085.78,527.78 L1101.78,511.78"/>
<path d="M1071.8,555.3 L1103.6,523.5"/>
<path d="M1076.01,564.61 L1092.01,548.61 M1099.31,541.31 L1115.31,525.31"/>
<path d="M1098.86,555.3 L1130.66,523.5"/>
<path d="M1112.84,554.84 L1128.84,538.84 M1136.14,531.54 L1152.14,515.54"/>
<path d="M1125.92,555.3 L1157.72,523.5"/>
<path d="M1126.37,568.37 L1142.37,552.37 M1149.67,545.07 L1165.67,529.07"/>
<path d="M1152.98,555.3 L1184.78,523.5"/>
<path d="M1163.2,558.6 L1179.2,542.6 M1186.5,535.3 L1202.5,519.3"/>
<path d="M1180.04,555.3 L1211.84,523.5"/>
<path d="M1200.03,548.83 L1216.03,532.83 M1223.33,525.53 L1239.33,509.53"/>
<path d="M1207.1,555.3 L1238.9,523.5"/>
<path d="M1213.56,562.36 L1229.56,546.36 M1236.86,539.06 L1252.86,523.06"/>
</g>
<rect x="1074.2" y="555.5" width="126.8" height="39" fill="url(#hSand)"/>
<line x1="1073.2" y1="524.5" x2="1200" y2="524.5" stroke="#1c1c1c" stroke-width="1.6" />
<line x1="1073.2" y1="554.3" x2="1200" y2="554.3" stroke="#1c1c1c" stroke-width="1.5" />
<path d="M1200,564.7 L1193.6,567.4 L1200,570.3" fill="none" stroke="#1c1c1c" stroke-width="1" />
<text x="1092.5" y="481.3" font-size="10.6" class="n">Конструкция пола сущ</text>
<line x1="1087.4" y1="486.3" x2="1200" y2="486.3" stroke="#1c1c1c" stroke-width="1" />
<line x1="1087.4" y1="486.3" x2="1087.4" y2="524" stroke="#1c1c1c" stroke-width="1" />
<path d="M1080.4,511.7 L1087.4,524 L1094,511.7" fill="none" stroke="#1c1c1c" stroke-width="1" />
<text x="1142.8" y="511.4" font-size="10.6" text-anchor="start" class="n" textLength="25.7" lengthAdjust="spacingAndGlyphs">0.000</text>
<line x1="1136.4" y1="514.4" x2="1172.6" y2="514.4" stroke="#1c1c1c" stroke-width="1" />
<line x1="1136.4" y1="514.4" x2="1136.4" y2="524" stroke="#1c1c1c" stroke-width="1" />
<path d="M1133.4,518.5 L1136.4,524 L1139.9,518.5" fill="none" stroke="#1c1c1c" stroke-width="1" />
<line x1="964.5" y1="598.5" x2="964.5" y2="652" stroke="#1c1c1c" stroke-width="1" />
<line x1="1073" y1="598.5" x2="1073" y2="652" stroke="#1c1c1c" stroke-width="1" />
<line x1="1018.5" y1="589" x2="1018.5" y2="659.6" stroke="#1c1c1c" stroke-width="1" />
<line x1="958" y1="620.5" x2="1079" y2="620.5" stroke="#1c1c1c" stroke-width="1" />
<line x1="960" y1="625" x2="969" y2="616" stroke="#1c1c1c" stroke-width="1" />
<line x1="1068.5" y1="625" x2="1077.5" y2="616" stroke="#1c1c1c" stroke-width="1" />
<text x="1007.8" y="618" font-size="11.4" textLength="20.7" lengthAdjust="spacingAndGlyphs" class="d">360</text>
<line x1="958" y1="646" x2="1079" y2="646" stroke="#1c1c1c" stroke-width="1" />
<line x1="960" y1="650.5" x2="969" y2="641.5" stroke="#1c1c1c" stroke-width="1" />
<line x1="1014" y1="650.5" x2="1023" y2="641.5" stroke="#1c1c1c" stroke-width="1" />
<line x1="1068.5" y1="650.5" x2="1077.5" y2="641.5" stroke="#1c1c1c" stroke-width="1" />
<text x="981.8" y="643.2" font-size="11.4" textLength="19.2" lengthAdjust="spacingAndGlyphs" class="d">180</text>
<text x="1036.2" y="643.2" font-size="11.4" textLength="19.2" lengthAdjust="spacingAndGlyphs" class="d">180</text>
<circle cx="1018.5" cy="672.9" r="13.4" fill="none" stroke="#1c1c1c" stroke-width="1"/>
<text x="1009.3" y="676.2" font-size="13" textLength="19" lengthAdjust="spacingAndGlyphs" class="n" stroke="#1c1c1c" stroke-width="0.3">ц.о.</text>
<text x="848" y="243.6" font-size="14.2" textLength="34.5" lengthAdjust="spacingAndGlyphs" class="g">Герметик</text>
<line x1="842.5" y1="245.5" x2="883.8" y2="245.5" stroke="#1c1c1c" stroke-width="0.85" />
<line x1="883.8" y1="245.5" x2="927" y2="378.8" stroke="#1c1c1c" stroke-width="0.85" />
<text x="820" y="284.7" font-size="14.2" textLength="32" lengthAdjust="spacingAndGlyphs" class="g">Заклепка</text>
<line x1="816.3" y1="286.8" x2="853.8" y2="286.8" stroke="#1c1c1c" stroke-width="0.85" />
<line x1="853.8" y1="286.8" x2="925.5" y2="383.8" stroke="#1c1c1c" stroke-width="0.85" />
<text x="782" y="319.2" font-size="14.2" textLength="61" lengthAdjust="spacingAndGlyphs" class="g">Монтажная пена</text>
<line x1="780.8" y1="321.3" x2="844.3" y2="321.3" stroke="#1c1c1c" stroke-width="0.85" />
<line x1="844.3" y1="321.3" x2="923.8" y2="398.8" stroke="#1c1c1c" stroke-width="0.85" />
<text x="743" y="361.7" font-size="14.2" textLength="96.5" lengthAdjust="spacingAndGlyphs" class="g">Планка начальная (отлив)</text>
<line x1="742.5" y1="364.3" x2="842.5" y2="364.3" stroke="#1c1c1c" stroke-width="0.85" />
<line x1="842.5" y1="364.3" x2="900" y2="397.5" stroke="#1c1c1c" stroke-width="0.85" />
<text x="779.3" y="445.5" font-size="14.2" textLength="50.7" lengthAdjust="spacingAndGlyphs" class="g">Ростверк сущ</text>
<line x1="775.5" y1="448" x2="830" y2="448" stroke="#1c1c1c" stroke-width="1" />
<line x1="830" y1="448" x2="923.8" y2="489.3" stroke="#1c1c1c" stroke-width="1" />
<text x="1092" y="246.4" font-size="14.2" textLength="95" lengthAdjust="spacingAndGlyphs" class="g">Сэндвич-панель стеновая</text>
<line x1="1089.8" y1="248.3" x2="1191.3" y2="248.3" stroke="#1c1c1c" stroke-width="0.85" />
<line x1="1089.8" y1="248.3" x2="948.8" y2="290.5" stroke="#1c1c1c" stroke-width="0.85" />
<text x="1088.8" y="286.9" font-size="14.2" textLength="110" lengthAdjust="spacingAndGlyphs" class="g">Уплотнительная термополоса</text>
<line x1="1083.8" y1="289" x2="1200" y2="289" stroke="#1c1c1c" stroke-width="1.3" />
<line x1="1083.8" y1="289" x2="965.5" y2="332.3" stroke="#1c1c1c" stroke-width="1.3" />
<text x="1115.5" y="344.7" font-size="14.2" textLength="92.3" lengthAdjust="spacingAndGlyphs" class="g">Колонна двутавр 36 сущ</text>
<line x1="1112.3" y1="347.2" x2="1200" y2="347.2" stroke="#1c1c1c" stroke-width="1" />
<line x1="1112.3" y1="347.2" x2="1043" y2="402" stroke="#1c1c1c" stroke-width="1" />
<line x1="659" y1="717.4" x2="659" y2="882.6" stroke="#1c1c1c" stroke-width="1.6" />
<line x1="659" y1="717.4" x2="1200" y2="717.4" stroke="#1c1c1c" stroke-width="1.6" />
<line x1="719.2" y1="717.4" x2="719.2" y2="882.6" stroke="#1c1c1c" stroke-width="1.5" />
<line x1="779.7" y1="717.4" x2="779.7" y2="882.6" stroke="#1c1c1c" stroke-width="1.5" />
<line x1="824.8" y1="717.4" x2="824.8" y2="882.6" stroke="#1c1c1c" stroke-width="1.5" />
<line x1="855" y1="717.4" x2="855" y2="882.6" stroke="#1c1c1c" stroke-width="1.5" />
<line x1="689" y1="717.4" x2="689" y2="794" stroke="#666" stroke-width="1" />
<line x1="749.7" y1="717.4" x2="749.7" y2="794" stroke="#666" stroke-width="1" />
<line x1="659" y1="732.43" x2="855" y2="732.43" stroke="#444" stroke-width="1" />
<line x1="659" y1="747.46" x2="855" y2="747.46" stroke="#444" stroke-width="1" />
<line x1="659" y1="762.49" x2="855" y2="762.49" stroke="#444" stroke-width="1" />
<line x1="659" y1="777.52" x2="855" y2="777.52" stroke="#1c1c1c" stroke-width="1.2" />
<line x1="659" y1="794" x2="855" y2="794" stroke="#1c1c1c" stroke-width="1.5" />
<line x1="659" y1="807.58" x2="855" y2="807.58" stroke="#444" stroke-width="1" />
<line x1="659" y1="822.61" x2="855" y2="822.61" stroke="#444" stroke-width="1" />
<line x1="659" y1="837.64" x2="855" y2="837.64" stroke="#444" stroke-width="1" />
<line x1="659" y1="852.67" x2="855" y2="852.67" stroke="#444" stroke-width="1" />
<line x1="659" y1="867.7" x2="855" y2="867.7" stroke="#444" stroke-width="1" />
<line x1="855" y1="747.46" x2="1200" y2="747.46" stroke="#1c1c1c" stroke-width="1.5" />
<line x1="855" y1="794" x2="1200" y2="794" stroke="#1c1c1c" stroke-width="1.5" />
<line x1="855" y1="837.64" x2="1200" y2="837.64" stroke="#1c1c1c" stroke-width="1.5" />
<line x1="1065.75" y1="809" x2="1200" y2="809" stroke="#1c1c1c" stroke-width="1.5" />
<line x1="1065.75" y1="794" x2="1065.75" y2="882.6" stroke="#1c1c1c" stroke-width="1.5" />
<line x1="1110.9" y1="794" x2="1110.9" y2="837.64" stroke="#1c1c1c" stroke-width="1.5" />
<line x1="1156" y1="794" x2="1156" y2="837.64" stroke="#1c1c1c" stroke-width="1.5" />
<text x="662.3" y="789.6" font-size="12.3" text-anchor="start" class="a" textLength="25.3" lengthAdjust="spacingAndGlyphs">Изм.</text>
<text x="690.6" y="789.6" font-size="12.3" text-anchor="start" class="a" textLength="23.8" lengthAdjust="spacingAndGlyphs">Кол.</text>
<text x="720.3" y="789.6" font-size="12.3" text-anchor="start" class="a" textLength="26.6" lengthAdjust="spacingAndGlyphs">Лист</text>
<text x="750.2" y="789.6" font-size="9.2" text-anchor="start" class="a" textLength="28.3" lengthAdjust="spacingAndGlyphs">№док.</text>
<text x="782.2" y="789.6" font-size="12.3" text-anchor="start" class="a" textLength="33" lengthAdjust="spacingAndGlyphs">Подп.</text>
<text x="825.3" y="789.6" font-size="12.3" text-anchor="start" class="a" textLength="27" lengthAdjust="spacingAndGlyphs">Дата</text>
<text x="661.5" y="819.8" font-size="10" textLength="46.5" lengthAdjust="spacingAndGlyphs" class="a" style="fill:#222;stroke:#222;stroke-width:0.15px">Разработал</text>
<text x="725.5" y="819.8" font-size="10" textLength="34.5" lengthAdjust="spacingAndGlyphs" class="a" style="fill:#222;stroke:#222;stroke-width:0.15px">Житлухин</text>
<text x="832.1" y="818.6" font-size="10" textLength="18" lengthAdjust="spacingAndGlyphs" class="a" style="fill:#222;stroke:#222;stroke-width:0.15px">06.17</text>
<text x="661.5" y="848.6" font-size="10" textLength="34.1" lengthAdjust="spacingAndGlyphs" class="a" style="fill:#222;stroke:#222;stroke-width:0.15px">Н. контр.</text>
<text x="724.8" y="847.6" font-size="10" textLength="39.3" lengthAdjust="spacingAndGlyphs" class="a" style="fill:#222;stroke:#222;stroke-width:0.15px">Двоеглазов</text>
<text x="832.1" y="848.6" font-size="10" textLength="18" lengthAdjust="spacingAndGlyphs" class="a" style="fill:#222;stroke:#222;stroke-width:0.15px">06.17</text>
<text x="661.5" y="865.2" font-size="10" textLength="16.5" lengthAdjust="spacingAndGlyphs" class="a" style="fill:#222;stroke:#222;stroke-width:0.15px">ГИП</text>
<text x="726.3" y="865.2" font-size="10" textLength="27" lengthAdjust="spacingAndGlyphs" class="a" style="fill:#222;stroke:#222;stroke-width:0.15px">Сягаев</text>
<text x="832.1" y="863.8" font-size="10" textLength="18" lengthAdjust="spacingAndGlyphs" class="a" style="fill:#222;stroke:#222;stroke-width:0.15px">06.17</text>
<path d="M790.6,810.4 c2,-0.8 3.4,0.2 3.2,2.4 c-0.3,3 -1.8,5.6 -3.4,7.4 M796,809.4 c-0.4,3.4 -0.3,7.4 0,11 M801.6,810 c-2.4,0.4 -3.8,2.4 -3.8,4.8 c0.2,2.4 1.6,4.4 3.6,5.8 M798,820.6 c1.6,0.4 3,0.4 4,-0.2 c0.8,-1.6 2,-2.2 2.8,-1 c0.5,0.8 1.4,0.9 2.2,0.5 c0.2,0.8 0.5,1.3 0.9,1.7 c-3,0.5 -6.5,0.5 -9.3,0.2" fill="none" stroke="#111" stroke-width="1.15" stroke-linecap="round" stroke-linejoin="round"/>
<path d="M783.1,852.4 C787,846.5 793.5,839 799.4,833.6" fill="none" stroke="#111" stroke-width="2.1" stroke-linecap="round"/>
<path d="M797.6,834.8 C796.6,838.5 795.8,842 795.6,844.7 C796.8,844.9 799,843.9 801,842.9 C802.8,842 805,841.6 805.6,842.5 C806.2,843.6 804.8,845.6 803,846.4 C801.6,847 800.9,846.6 801.5,845.6 C804,843.8 809,841 813.3,839.1 C818,837.2 823,836.2 827.4,836" fill="none" stroke="#111" stroke-width="1.2" stroke-linecap="round" stroke-linejoin="round"/>
<path d="M806.5,852.6 C801.5,851.5 793,858.5 790.8,865.5 C789.8,869 791.5,871.5 794.5,870.5 C798.5,869.2 803.5,864.5 806.5,859 C808.3,855.6 808.2,852.8 806.2,852.5 C803.5,852.4 800.6,858 800,862 C799.6,865 801,866.4 803,865.2 C805.5,863.6 807.5,860 807.2,856.2 M814.4,851.3 C811.5,857 807.5,864.5 804.4,870.2 C807,866 811,858.5 813.6,852.5 M791.5,867.5 C795,868.5 800,867 806,865.2 C809.5,864.2 813,863.4 815.6,863" fill="none" stroke="#111" stroke-width="1.15" stroke-linecap="round" stroke-linejoin="round"/>
<text x="1033.8" y="736.8" font-size="12.4" text-anchor="middle" class="a">07-17-АС</text>
<text x="1029" y="761.6" font-size="12.7" text-anchor="middle" class="a">Капитальный ремонт здания СТО,</text>
<text x="1029" y="774.1" font-size="12.7" text-anchor="middle" class="a">расположенного по адресу:</text>
<text x="1028.5" y="786.7" font-size="12.7" text-anchor="middle" class="a">г. Пермь, шоссе Космонавтов, д. 318А</text>
<text x="961.5" y="820.2" font-size="12.6" text-anchor="middle" class="a">ООО "Агропроф"</text>
<text x="1088.5" y="807.4" font-size="12.6" text-anchor="middle" class="a" textLength="43" lengthAdjust="spacingAndGlyphs">Стадия</text>
<text x="1133.5" y="807.4" font-size="12.6" text-anchor="middle" class="a">Лист</text>
<text x="1162" y="807.4" font-size="12.6" text-anchor="start" class="a">Листов</text>
<text x="1087.3" y="827.5" font-size="12.6" text-anchor="middle" class="a">АС</text>
<text x="1133.3" y="828" font-size="12.6" text-anchor="middle" class="a">5</text>
<text x="960.5" y="848.8" font-size="12.75" text-anchor="middle" class="a">Схема устройства кровельного</text>
<text x="960.5" y="863.6" font-size="12.75" text-anchor="middle" class="a" textLength="208.5" lengthAdjust="spacingAndGlyphs">свеса, схема примыкания стеновых</text>
<text x="960.5" y="878.4" font-size="12.75" text-anchor="middle" class="a">сэндвич-панелей к ростверку</text>
<text x="1142.5" y="863.2" font-size="12.6" text-anchor="middle" class="a">ООО "Альянс"</text>
</svg></body></html>
